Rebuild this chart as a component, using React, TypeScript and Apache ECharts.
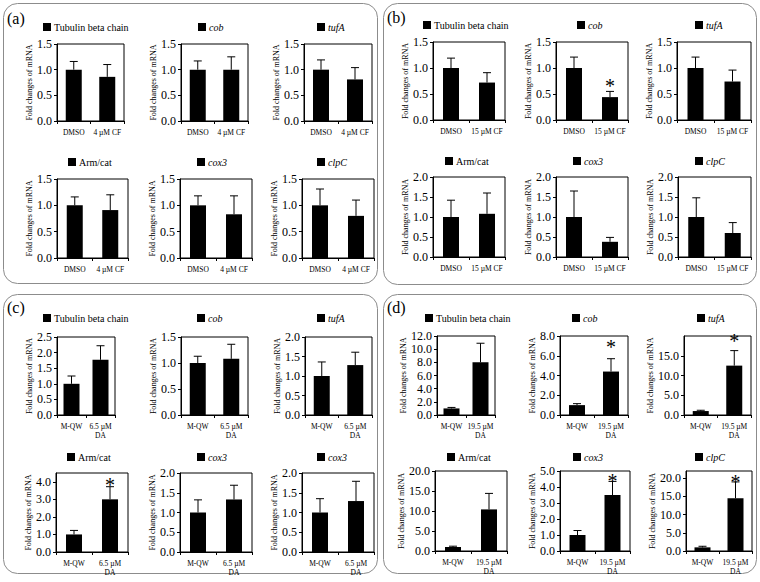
import React, { useEffect, useRef } from "react";
import * as echarts from "echarts";

// ---------------- DATA ----------------
const panelLabels = ["(a)", "(b)", "(c)", "(d)"];

const catsA = ["DMSO", "4 µM CF"];
const catsB = ["DMSO", "15 µM CF"];
const catsC = ["M-QW", "6.5 µM\nDA"];
const catsD = ["M-QW", "19.5 µM\nDA"];

const titlesABD = ["Tubulin beta chain", "cob", "tufA", "Arm/cat", "cox3", "clpC"];
const titlesC = ["Tubulin beta chain", "cob", "tufA", "Arm/cat", "cox3", "cox3"];
const italicTitles = [false, true, true, false, true, true];

// mean fold change, upper end of error bar, y-axis max / step,
// significance star (index of starred bar and the height it is drawn at)
const meanA = [[1.0, 0.86], [1.0, 1.0], [1.0, 0.81], [1.0, 0.91], [1.0, 0.83], [1.0, 0.8]];
const upperA = [[1.16, 1.1], [1.17, 1.25], [1.19, 1.04], [1.16, 1.2], [1.18, 1.18], [1.31, 1.1]];
const yMaxA = [1.5, 1.5, 1.5, 1.5, 1.5, 1.5];
const stepA = [0.5, 0.5, 0.5, 0.5, 0.5, 0.5];
const starBarA = [-1, -1, -1, -1, -1, -1];
const starAtA = [0, 0, 0, 0, 0, 0];
const topLabelA = [true, true, true, true, true, true];

const meanB = [[1.0, 0.72], [1.0, 0.44], [1.0, 0.74], [1.0, 1.08], [1.0, 0.38], [1.0, 0.6]];
const upperB = [[1.19, 0.91], [1.21, 0.55], [1.21, 0.96], [1.42, 1.6], [1.65, 0.49], [1.48, 0.86]];
const yMaxB = [1.5, 1.5, 1.5, 2.0, 2.0, 2.0];
const stepB = [0.5, 0.5, 0.5, 0.5, 0.5, 0.5];
const starBarB = [-1, 1, -1, -1, -1, -1];
const starAtB = [0, 0.71, 0, 0, 0, 0];
const topLabelB = [true, true, true, true, true, true];

const meanC = [[1.0, 1.77], [1.0, 1.08], [1.0, 1.28], [1.0, 3.0], [1.0, 1.33], [1.0, 1.29]];
const upperC = [[1.25, 2.22], [1.13, 1.36], [1.36, 1.61], [1.23, 3.72], [1.32, 1.69], [1.35, 1.79]];
const yMaxC = [2.5, 1.5, 2.0, 4.5, 2.0, 2.0];
const stepC = [0.5, 0.5, 0.5, 1.0, 0.5, 0.5];
const starBarC = [-1, -1, -1, 1, -1, -1];
const starAtC = [0, 0, 0, 4.0, 0, 0];
const topLabelC = [true, true, true, false, true, true];

const meanD = [[1.0, 8.0], [1.0, 4.4], [1.0, 12.5], [1.0, 10.4], [1.0, 3.5], [1.0, 14.5]];
const upperD = [[1.15, 10.9], [1.15, 5.7], [1.2, 16.3], [1.2, 14.4], [1.28, 4.35], [1.3, 19.0]];
const yMaxD = [12, 8, 20, 20, 5, 22];
const stepD = [2, 2, 5, 5, 1, 5];
const starBarD = [-1, 1, 1, -1, 1, 1];
const starAtD = [0, 7.2, 19.5, 0, 4.6, 19.9];
const topLabelD = [true, true, false, true, true, false];

const yAxisName = "Fold changes of mRNA";

// ---------------- LAYOUT ----------------
const FONT = "Liberation Serif";

const layout = [
  {
    rows: [[44, 121], [179, 258]],
    cols: [[[57, 124], [181, 248], [304, 372]], [[57, 128], [180, 252], [302, 374]]],
    legY: [28, 163],
    legX: [[43, 198, 317], [68, 197, 317]],
    box: [3.5, 3.5, 374, 280],
    lab: [7, 18],
  },
  {
    rows: [[42, 120], [177, 257]],
    cols: [[[433, 505], [556, 628], [677, 751]], [[433, 505], [556, 628], [678, 751]]],
    legY: [26, 162],
    legX: [[423, 577, 695], [445, 573, 695]],
    box: [383.5, 3.5, 373, 281],
    lab: [387, 17],
  },
  {
    rows: [[337, 415], [473, 552]],
    cols: [[[57, 115], [181, 248], [305, 372]], [[56, 128], [180, 252], [302, 374]]],
    legY: [319, 458],
    legX: [[43, 197, 317], [67, 197, 317]],
    box: [3.5, 294.5, 374, 279],
    lab: [7, 307],
  },
  {
    rows: [[336, 415], [471, 551]],
    cols: [[[437, 495], [560, 628], [684, 751]], [[435, 507], [560, 630], [686, 752]]],
    legY: [319, 458],
    legX: [[425, 572, 697], [447, 573, 695]],
    box: [383.5, 294.5, 373, 279],
    lab: [387, 307],
  },
];

const panels = [
  { cats: catsA, titles: titlesABD, mean: meanA, upper: upperA, yMax: yMaxA, step: stepA, starBar: starBarA, starAt: starAtA, topLabel: topLabelA },
  { cats: catsB, titles: titlesABD, mean: meanB, upper: upperB, yMax: yMaxB, step: stepB, starBar: starBarB, starAt: starAtB, topLabel: topLabelB },
  { cats: catsC, titles: titlesC, mean: meanC, upper: upperC, yMax: yMaxC, step: stepC, starBar: starBarC, starAt: starAtC, topLabel: topLabelC },
  { cats: catsD, titles: titlesABD, mean: meanD, upper: upperD, yMax: yMaxD, step: stepD, starBar: starBarD, starAt: starAtD, topLabel: topLabelD },
];

function buildOption() {
  const grid: any[] = [];
  const xAxis: any[] = [];
  const yAxis: any[] = [];
  const series: any[] = [];
  const legend: any[] = [];
  const graphic: any[] = [];

  panels.forEach((p, pi) => {
    const L = layout[pi];
    graphic.push({
      type: "rect",
      silent: true,
      shape: { x: L.box[0], y: L.box[1], width: L.box[2], height: L.box[3], r: 14 },
      style: { fill: "none", stroke: "#8c8c8c", lineWidth: 1 },
    });
    graphic.push({
      type: "text",
      silent: true,
      x: L.lab[0],
      y: L.lab[1],
      style: {
        text: panelLabels[pi],
        fontFamily: FONT,
        fontSize: 16,
        fill: "#000",
        align: "left",
        verticalAlign: "middle",
      },
    });

    for (let k = 0; k < 6; k++) {
      const r = Math.floor(k / 3);
      const c = k % 3;
      const gi = grid.length;
      const [top, bottom] = L.rows[r];
      const [left, right] = L.cols[r][c];
      grid.push({
        left,
        top,
        width: right - left,
        height: bottom - top,
        show: true,
        borderColor: "#000",
        borderWidth: 1,
        containLabel: false,
      });
      xAxis.push({
        type: "category",
        gridIndex: gi,
        data: p.cats,
        axisLine: { show: true, lineStyle: { color: "#000", width: 1 } },
        axisTick: { show: true, length: 3, inside: false, alignWithLabel: false, lineStyle: { color: "#000" } },
        axisLabel: {
          fontFamily: FONT,
          fontSize: 7.5,
          color: "#000",
          margin: 7,
          lineHeight: 9,
          interval: 0,
        },
        splitLine: { show: false },
      });
      yAxis.push({
        type: "value",
        gridIndex: gi,
        min: 0,
        max: p.yMax[k],
        interval: p.step[k],
        name: yAxisName,
        nameLocation: "middle",
        nameGap: 23,
        nameTextStyle: { fontFamily: FONT, fontSize: 8, color: "#000" },
        axisLine: { show: true, lineStyle: { color: "#000", width: 1 } },
        axisTick: { show: true, length: 3, inside: false, lineStyle: { color: "#000" } },
        axisLabel: {
          fontFamily: FONT,
          fontSize: 12,
          color: "#000",
          margin: 5,
          showMaxLabel: p.topLabel[k],
          formatter: (v: number) => v.toFixed(1),
        },
        splitLine: { show: false },
      });
      const title = p.titles[k];
      series.push({
        type: "bar",
        name: title,
        xAxisIndex: gi,
        yAxisIndex: gi,
        data: p.mean[k],
        barWidth: 16,
        itemStyle: { color: "#000" },
        silent: true,
      });
      series.push({
        type: "custom",
        xAxisIndex: gi,
        yAxisIndex: gi,
        silent: true,
        data: p.mean[k].map((m, i) => [i, m, p.upper[k][i], p.starBar[k] === i ? p.starAt[k] : -1]),
        renderItem: (params: any, api: any) => {
          const x = api.value(0);
          const v = api.value(1);
          const t = api.value(2);
          const s = api.value(3);
          const p0 = api.coord([x, v]);
          const p1 = api.coord([x, t]);
          const children: any[] = [
            {
              type: "line",
              shape: { x1: p0[0], y1: p0[1], x2: p1[0], y2: p1[1] },
              style: { stroke: "#000", lineWidth: 1 },
            },
            {
              type: "line",
              shape: { x1: p1[0] - 4, y1: p1[1], x2: p1[0] + 4, y2: p1[1] },
              style: { stroke: "#000", lineWidth: 1 },
            },
          ];
          if (s > 0) {
            const ps = api.coord([x, s]);
            children.push({
              type: "text",
              x: ps[0],
              y: ps[1] + 3.4,
              style: {
                text: "*",
                fontFamily: FONT,
                fontSize: 20,
                fill: "#000",
                align: "center",
                verticalAlign: "middle",
              },
            });
          }
          return { type: "group", children };
        },
      });
      legend.push({
        left: L.legX[r][c],
        top: L.legY[r] - 6,
        padding: 0,
        itemWidth: 8,
        itemHeight: 8,
        itemGap: 0,
        selectedMode: false,
        icon: "rect",
        data: [title],
        textStyle: {
          fontFamily: FONT,
          fontSize: 10,
          color: "#000",
          fontStyle: italicTitles[k] ? "italic" : "normal",
          padding: [0, 0, 0, -2],
        },
      });
    }
  });

  return {
    animation: false,
    backgroundColor: "#fff",
    textStyle: { fontFamily: FONT },
    grid,
    xAxis,
    yAxis,
    series,
    legend,
    graphic,
  };
}

export default function App() {
  const ref = useRef<HTMLDivElement>(null);
  useEffect(() => {
    document.body.style.margin = "0";
    if (!ref.current) return;
    const chart = echarts.init(ref.current, null, { renderer: "svg" });
    chart.setOption(buildOption() as any);
    return () => chart.dispose();
  }, []);
  return <div ref={ref} style={{ width: 760, height: 582 }} />;
}
